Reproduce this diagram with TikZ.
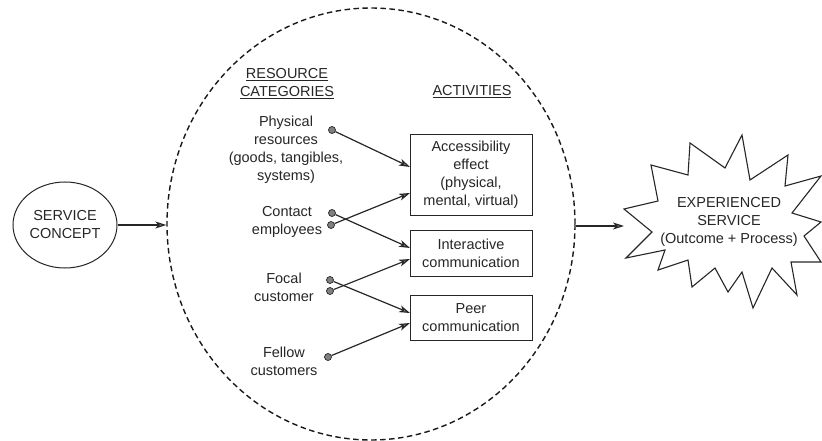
\documentclass[tikz,border=0pt]{standalone}
\usepackage{fontspec}
\setmainfont{Liberation Sans}
\usetikzlibrary{arrows.meta,shapes.geometric}
\begin{document}
\begin{tikzpicture}[x=1pt,y=-1pt,
  every node/.style={font=\fontsize{14.5}{18}\selectfont, align=center, inner sep=0pt, text=black!85},
  actbox/.style={draw=black!85, line width=1pt, minimum width=122pt},
  dot/.style={circle, draw=black!85, fill=black!50, minimum size=7pt, inner sep=0pt, line width=0.7pt},
  link/.style={draw=black!85, line width=1.2pt, -{Stealth[length=11pt,width=7pt,inset=3pt,fill=black!45]}},
]
\useasboundingbox (0,0) rectangle (822,441);

% service concept
\node[ellipse, draw=black!85, line width=1pt, minimum width=104pt, minimum height=86pt] (sc) at (65,225) {SERVICE\\CONCEPT};

% dashed system boundary
\node[ellipse, draw=black!90, dash pattern=on 5.5pt off 3.5pt, line width=1.4pt, minimum width=408pt, minimum height=432pt] (sys) at (371,224) {};

% headers
\node (rh) at (287,83.5) {\underline{RESOURCE}\\\underline{CATEGORIES}};
\node (ah) at (472,92) {\underline{ACTIVITIES}};

% resource labels
\node (prl) at (286,150) {Physical\\resources\\(goods, tangibles,\\systems)};
\node (cel) at (287,221.5) {Contact\\employees};
\node (fcl) at (284,287) {Focal\\customer};
\node (fwl) at (284,361.5) {Fellow\\customers};

% dots
\node[dot] (pr)  at (332,130) {};
\node[dot] (ce1) at (332,213) {};
\node[dot] (ce2) at (331,225) {};
\node[dot] (fc1) at (330,280) {};
\node[dot] (fc2) at (330,291) {};
\node[dot] (fw)  at (328,357) {};

% activity boxes
\node[actbox, minimum height=80pt] (acc) at (471,175) {\fontsize{14.5}{17.5}\selectfont Accessibility\\effect\\(physical,\\mental, virtual)};
\node[actbox, minimum height=46pt] (int) at (471,253) {Interactive\\communication};
\node[actbox, minimum height=45pt] (peer) at (471,317.5) {Peer\\communication};

% arrow targets on box edges
\coordinate (t1) at (410,167);
\coordinate (t2) at (410,193);
\coordinate (t3) at (410,248);
\coordinate (t4) at (410,259);
\coordinate (t5) at (410,313);
\coordinate (t6) at (410,323);

\draw[link] (pr) -- (t1);
\draw[link] (ce2) -- (t2);
\draw[link] (ce1) -- (t3);
\draw[link] (fc2) -- (t4);
\draw[link] (fc1) -- (t5);
\draw[link] (fw) -- (t6);

% experienced service burst
\draw[draw=black!85, line width=1.1pt, line join=miter]
  (742,135) -- (750,180) -- (788,155) -- (785,186) -- (821,176) -- (792,213)
  -- (821,222) -- (804,236) -- (821,262) -- (791,262) -- (797,295) -- (772,268)
  -- (753,308) -- (742,272) -- (728,292) -- (715,268) -- (692,287) -- (688,260)
  -- (658,270) -- (665,250) -- (626,258) -- (652,232) -- (624,209) -- (658,201)
  -- (651,165) -- (688,175) -- (690,143) -- (725,168) -- cycle;
\node (es) at (729,221.5) {EXPERIENCED\\SERVICE\\(Outcome + Process)};
\coordinate (burstin) at (624,226);

% main flow arrows
\draw[link] (sc.east) -- (sc.east -| sys.west);
\draw[link] (sys.east |- burstin) -- (burstin);
\end{tikzpicture}
\end{document}
